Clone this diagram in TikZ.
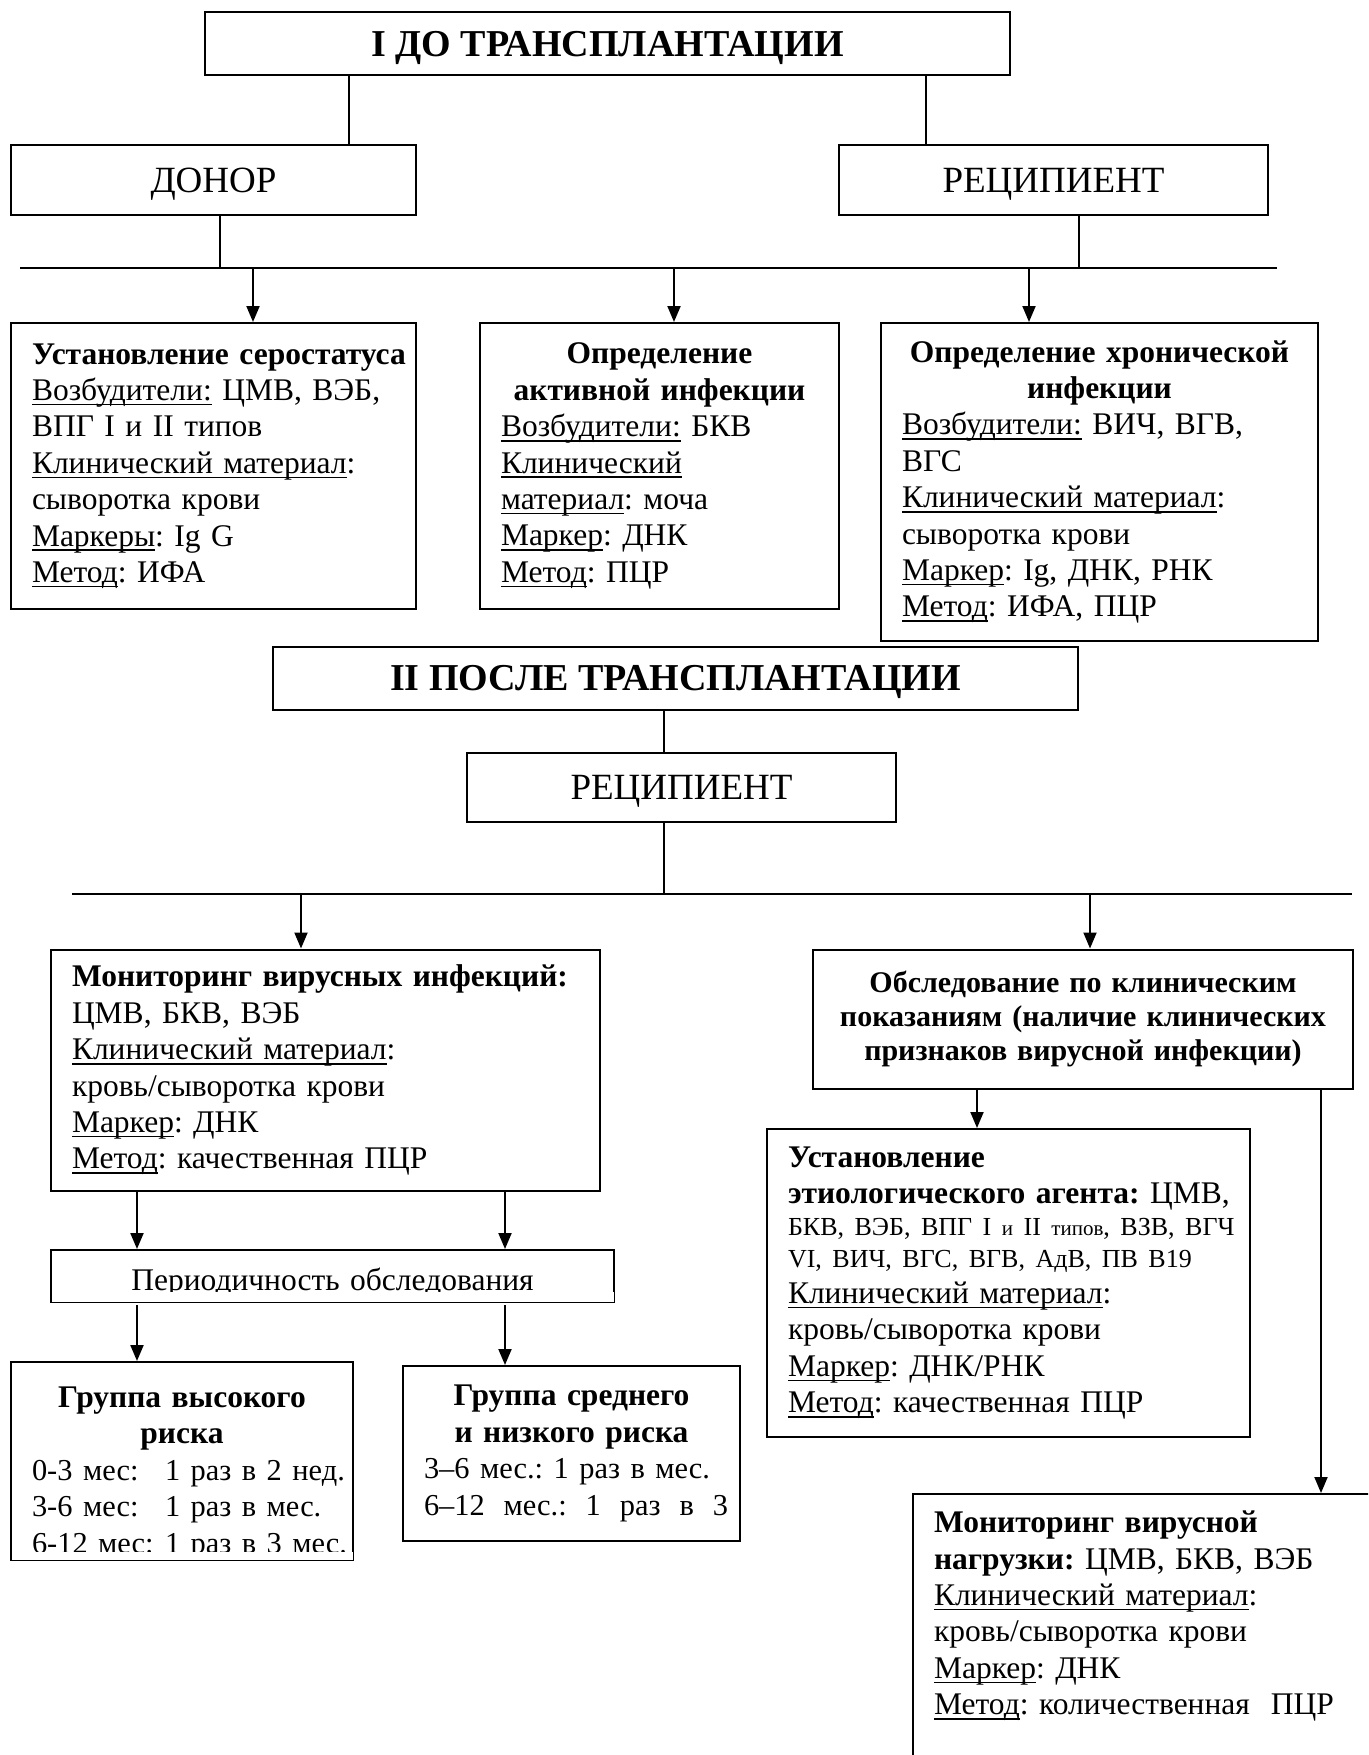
\documentclass[tikz,border=0pt]{standalone}
\usepackage{fontspec}
\setmainfont{Liberation Serif}
\usepackage{tikz}
\usetikzlibrary{arrows.meta, calc}
\frenchspacing

\newcommand{\ctr}[1]{\makebox[\hsize][c]{#1}}
\newcommand{\term}[1]{\makebox[133pt][l]{#1}}
\newcommand{\ulbl}[1]{\leavevmode\setbox0\hbox{#1}\rlap{\rule[-4.9pt]{\wd0}{1.5pt}}\box0\relax}
\newcommand{\sched}{\fontsize{30.4}{36.4}\selectfont}

\begin{document}
\begin{tikzpicture}[
    x=1pt, y=-1pt,
    titlebox/.style={rectangle, draw, line width=2pt, anchor=north west, inner sep=0pt, text depth=0pt, font=\fontsize{38}{42}\selectfont\bfseries},
    headbox/.style={rectangle, draw, line width=2pt, anchor=north west, inner sep=0pt, text depth=0pt, font=\fontsize{37}{42}\selectfont},
    infobox/.style={rectangle, draw, line width=2pt, anchor=north west, align=left, inner xsep=21pt, inner ysep=0pt, font=\fontsize{31.5}{36.4}\selectfont},
    conn/.style={line width=1.5pt},
    arrow/.style={line width=2pt, -{Triangle[length=16pt, width=13pt]}}
]
\useasboundingbox (0,0) rectangle (1368,1755);
\clip (0,0) rectangle (1368,1755);

% ---------- I до трансплантации ----------
\node[titlebox, minimum width=805pt, minimum height=63.5pt] (pre) at (204,11) {I ДО ТРАНСПЛАНТАЦИИ};
\node[headbox, minimum width=405pt, minimum height=70pt] (donor) at (10,144) {ДОНОР};
\node[headbox, minimum width=429pt, minimum height=70pt] (recip) at (838,144) {РЕЦИПИЕНТ};

\node[infobox, text width=363pt, minimum height=286pt] (sero) at (10,322) {%
\mbox{\textbf{Установление серостатуса}}\\
\ulbl{Возбудители:} ЦМВ, ВЭБ,\\
ВПГ I и II типов\\
\ulbl{Клинический материал}:\\
сыворотка крови\\
\ulbl{Маркеры}: Ig G\\
\ulbl{Метод}: ИФА};

\node[infobox, text width=317pt, minimum height=286pt] (active) at (479,322) {%
\ctr{\textbf{Определение}}\\
\ctr{\textbf{активной инфекции}}\\
\ulbl{Возбудители:} БКВ\\
\ulbl{Клинический}\\
\ulbl{материал}: моча\\
\ulbl{Маркер}: ДНК\\
\ulbl{Метод}: ПЦР};

\node[infobox, text width=395pt, minimum height=318pt] (chronic) at (880,322) {%
\ctr{\textbf{Определение хронической}}\\
\ctr{\textbf{инфекции}}\\
\ulbl{Возбудители:} ВИЧ, ВГВ,\\
ВГС\\
\ulbl{Клинический материал}:\\
сыворотка крови\\
\ulbl{Маркер}: Ig, ДНК, РНК\\
\ulbl{Метод}: ИФА, ПЦР};

% ---------- II после трансплантации ----------
\node[titlebox, minimum width=805pt, minimum height=63pt] (post) at (272,645.5) {II ПОСЛЕ ТРАНСПЛАНТАЦИИ};
\node[headbox, minimum width=429pt, minimum height=69.5pt] (recipb) at (466,751.5) {РЕЦИПИЕНТ};

\node[infobox, text width=507pt, minimum height=241.5pt] (monitor) at (50,948.5) {%
\textbf{Мониторинг вирусных инфекций:}\\
ЦМВ, БКВ, ВЭБ\\
\ulbl{Клинический материал}:\\
кровь/сыворотка крови\\
\ulbl{Маркер}: ДНК\\
\ulbl{Метод}: качественная ПЦР};

\node[infobox, text width=498pt, minimum height=139.5pt, align=center, font=\fontsize{30}{34}\selectfont\bfseries] (clinic) at (812,948.5) {%
Обследование по клиническим\\
показаниям (наличие клинических\\
признаков вирусной инфекции)};

\node[infobox, text width=521pt, minimum height=52pt, align=center, text height=28pt, text depth=0pt] (period) at (50,1249) {Периодичность обследования};

\node[infobox, text width=300pt, minimum height=198pt] (high) at (10,1361) {%
\ctr{\rule{0pt}{45pt}\textbf{Группа высокого}}\\
\ctr{\textbf{риска}}\\
\mbox{\sched\term{0-3 мес:}1 раз в 2 нед.}\\
\mbox{\sched\term{3-6 мес:}1 раз в мес.}\\
\mbox{\sched\term{6-12 мес:}1 раз в 3 мес.}};

\node[infobox, text width=295pt, minimum height=175pt] (mid) at (402,1365) {%
\ctr{\textbf{Группа среднего}}\\
\ctr{\textbf{и низкого риска}}\\
\mbox{\sched 3–6 мес.: 1 раз в мес.}\\
\makebox[304pt][l]{\sched 6–12\hfill мес.:\hfill 1\hfill раз\hfill в\hfill 3}};

\node[infobox, text width=441pt, minimum height=308pt] (etio) at (766,1128) {%
\textbf{Установление}\\
\mbox{\textbf{этиологического агента:} ЦМВ,}\\[-4.5pt]
\mbox{\fontsize{26}{30}\selectfont БКВ, ВЭБ, ВПГ I {\fontsize{21}{26}\selectfont и} II {\fontsize{21}{26}\selectfont типов}, ВЗВ, ВГЧ}\\[-5pt]
\mbox{\fontsize{26}{30}\selectfont VI, ВИЧ, ВГС, ВГВ, АдВ, ПВ В19}\\
\ulbl{Клинический материал}:\\
кровь/сыворотка крови\\
\ulbl{Маркер}: ДНК/РНК\\
\ulbl{Метод}: качественная ПЦР};

\node[infobox, text width=580pt, inner ysep=17pt] (load) at (912,1493) {%
\textbf{Мониторинг вирусной}\\
\textbf{нагрузки:} ЦМВ, БКВ, ВЭБ\\
\ulbl{Клинический материал}:\\
кровь/сыворотка крови\\
\ulbl{Маркер}: ДНК\\
\ulbl{Метод}: количественная~~ПЦР\\[60pt]
\mbox{}};

% обрезанные строки
\fill[white] ($(period.south west)+(1.5,-1.5)$) rectangle ($(period.south east)+(-1.5,-11)$);
\fill[white] ($(high.south west)+(1.5,-1.5)$) rectangle ($(high.south east)+(-1.5,-9.5)$);

% ---------- линии I ----------
\coordinate (busAL) at (20,268);
\coordinate (busAR) at (1277,268);
\draw[conn] (busAL) -- (busAR);

\coordinate (preL) at ($(pre.south west)+(145,0)$);
\coordinate (preR) at ($(pre.south east)+(-85,0)$);
\draw[conn] (preL) -- (preL |- donor.north);
\draw[conn] (preR) -- (preR |- recip.north);

\coordinate (donorD) at ($(donor.south west)+(210,0)$);
\coordinate (recipD) at ($(recip.south east)+(-190,0)$);
\draw[conn] (donorD) -- (donorD |- busAL);
\draw[conn] (recipD) -- (recipD |- busAL);

\coordinate (dropA) at ($(sero.north west)+(243,0)$);
\coordinate (dropB) at ($(active.north)+(14.5,0)$);
\coordinate (dropC) at ($(chronic.north west)+(149,0)$);
\draw[arrow] (dropA |- busAL) -- (dropA);
\draw[arrow] (dropB |- busAL) -- (dropB);
\draw[arrow] (dropC |- busAL) -- (dropC);

% ---------- линии II ----------
\coordinate (busBL) at (72,894);
\coordinate (busBR) at (1352,894);
\draw[conn] (busBL) -- (busBR);

\coordinate (postD) at ($(post.south west)+(392,0)$);
\draw[conn] (postD) -- (postD |- recipb.north);
\draw[conn] (postD |- recipb.south) -- (postD |- busBL);

\coordinate (dropM) at ($(monitor.north west)+(251,0)$);
\coordinate (dropK) at ($(clinic.north west)+(278,0)$);
\draw[arrow] (dropM |- busBL) -- (dropM);
\draw[arrow] (dropK |- busBL) -- (dropK);

\coordinate (monL) at ($(monitor.south west)+(87,0)$);
\coordinate (monR) at ($(monitor.south west)+(455,0)$);
\draw[arrow] (monL) -- (monL |- period.north);
\draw[arrow] (monR) -- (monR |- period.north);
\draw[arrow] ($(monL |- period.south)+(0,2)$) -- (monL |- high.north);
\draw[arrow] ($(monR |- period.south)+(0,2)$) -- (monR |- mid.north);

\coordinate (clinE) at ($(clinic.south west)+(165,0)$);
\coordinate (clinL) at ($(clinic.south east)+(-33,0)$);
\draw[arrow] (clinE) -- (clinE |- etio.north);
\draw[arrow] (clinL) -- (clinL |- load.north);

\end{tikzpicture}
\end{document}
